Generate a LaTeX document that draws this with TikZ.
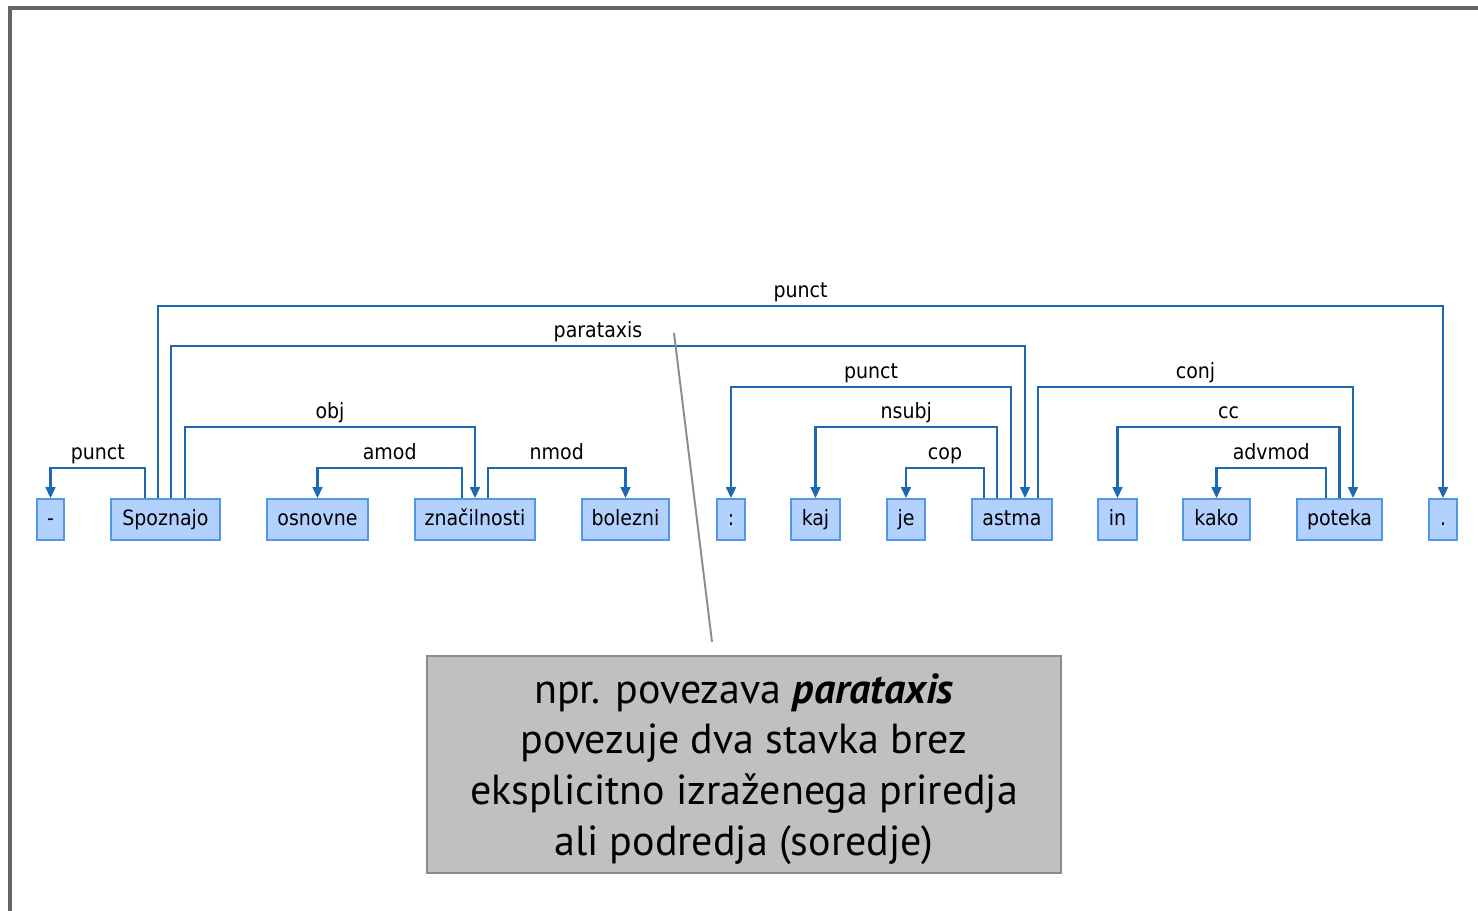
\documentclass[tikz,border=0pt]{standalone}
\usepackage{fontspec}
\setmainfont{DejaVu Sans Condensed}
\newfontfamily\notefont{PT Sans}
\usetikzlibrary{calc, arrows.meta, positioning}
\definecolor{deparc}{RGB}{28,104,178}
\definecolor{wordfill}{RGB}{179,209,255}
\definecolor{wordline}{RGB}{80,150,235}
\definecolor{notefill}{RGB}{192,192,192}
\definecolor{noteline}{RGB}{140,140,140}
\definecolor{frameline}{RGB}{100,100,100}
\tikzset{
    word/.style = {rectangle, draw=wordline, fill=wordfill, line width=1.1pt, minimum height=0.82cm, inner sep=0pt, text height=9pt, text depth=2.6pt, font=\fontsize{12}{14}\selectfont}, % one box for each token
    dep/.style = {draw=deparc, line width=1.2pt, -{Triangle[length=6.2pt, width=5.6pt]}},
    rel/.style = {anchor=base, yshift=5pt, inner sep=0pt, text=black, font=\fontsize{12}{14}\selectfont},
    note/.style = {rectangle, draw=noteline, fill=notefill, line width=1.2pt, minimum width=12.68cm, minimum height=4.34cm, align=center, font=\notefont\fontsize{23.9}{28.9}\selectfont}
}
\begin{document}
\begin{tikzpicture}[x=0.02cm, y=-0.02cm]
    \useasboundingbox (0,0) rectangle (1478,911);
    % slide frame
    \draw[frameline, line width=2pt] (1478,8) -- (10,8) -- (10,911);

    % tokens
    \node[word, minimum width=0.54cm] (dash) at (50.5,519.5) {-};
    \node[word, minimum width=2.18cm] (spoz) at (165.5,519.5) {Spoznajo};
    \node[word, minimum width=2.02cm] (osn) at (317.5,519.5) {osnovne};
    \node[word, minimum width=2.40cm] (zna) at (475,519.5) {značilnosti};
    \node[word, minimum width=1.74cm] (bol) at (625.5,519.5) {bolezni};
    \node[word, minimum width=0.56cm] (colon) at (731,519.5) {:};
    \node[word, minimum width=0.98cm] (kaj) at (815.5,519.5) {kaj};
    \node[word, minimum width=0.76cm] (je) at (906,519.5) {je};
    \node[word, minimum width=1.60cm] (astma) at (1012,519.5) {astma};
    \node[word, minimum width=0.78cm] (in) at (1117.5,519.5) {in};
    \node[word, minimum width=1.34cm] (kako) at (1216.5,519.5) {kako};
    \node[word, minimum width=1.70cm] (pot) at (1339.5,519.5) {poteka};
    \node[word, minimum width=0.56cm] (dot) at (1443,519.5) {.};

    % dependencies
    \draw[dep] ($(spoz.north)+(-20.5,0)$) -- ++(0,-30) -| (dash.north) node[rel, pos=0.25] {punct};
    \draw[dep] ($(spoz.north)+(19.5,0)$) -- ++(0,-71) -| (zna.north) node[rel, pos=0.25] {obj};
    \draw[dep] ($(spoz.north)+(5.5,0)$) -- ++(0,-152) -| ($(astma.north)+(13,0)$) node[rel, pos=0.25] {parataxis};
    \draw[dep] ($(spoz.north)+(-7.5,0)$) -- ++(0,-192) -| (dot.north) node[rel, pos=0.25] {punct};
    \draw[dep] ($(zna.north)+(-13,0)$) -- ++(0,-30) -| (osn.north) node[rel, pos=0.25] {amod};
    \draw[dep] ($(zna.north)+(13,0)$) -- ++(0,-30) -| (bol.north) node[rel, pos=0.25] {nmod};
    \draw[dep] ($(astma.north)+(-1,0)$) -- ++(0,-111) -| (colon.north) node[rel, pos=0.25] {punct};
    \draw[dep] ($(astma.north)+(-15,0)$) -- ++(0,-71) -| (kaj.north) node[rel, pos=0.25] {nsubj};
    \draw[dep] ($(astma.north)+(-28,0)$) -- ++(0,-30) -| (je.north) node[rel, pos=0.25] {cop};
    \draw[dep] ($(astma.north)+(26,0)$) -- ++(0,-111) -| ($(pot.north)+(13.5,0)$) node[rel, pos=0.25] {conj};
    \draw[dep] (pot.north) -- ++(0,-71) -| (in.north) node[rel, pos=0.25] {cc};
    \draw[dep] ($(pot.north)+(-13.5,0)$) -- ++(0,-30) -| (kako.north) node[rel, pos=0.25] {advmod};

    % callout
    \node[note] (note) at (744,764.5) {\rule{0pt}{22pt}npr. povezava \textbf{\textit{parataxis}}\\povezuje dva stavka brez\\eksplicitno izraženega priredja\\ali podredja (soredje)};
    \coordinate (pointer) at (674,333);
    \draw[noteline, line width=1.1pt] (pointer) -- ($(note.north)+(-32,-13)$);
\end{tikzpicture}
\end{document}
